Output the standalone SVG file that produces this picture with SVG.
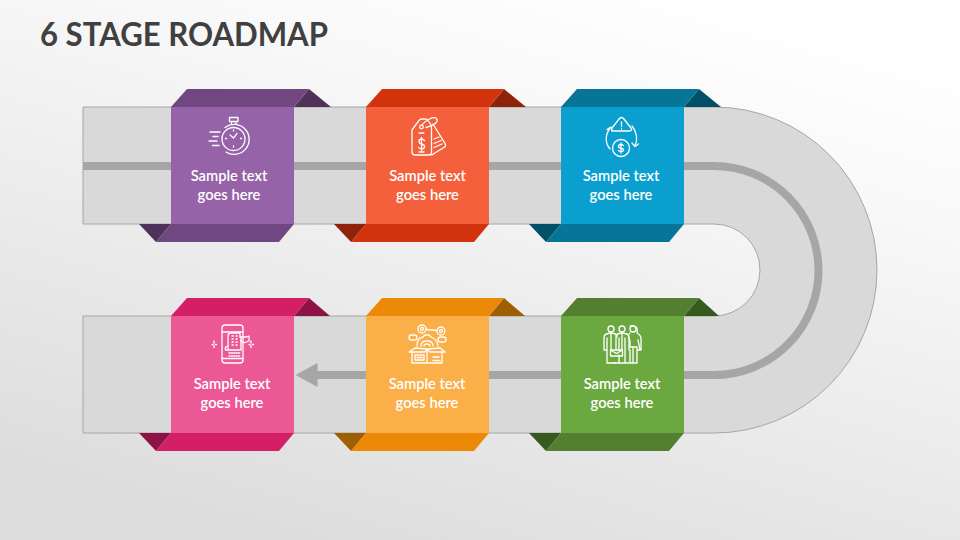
<svg xmlns="http://www.w3.org/2000/svg" width="960" height="540" viewBox="0 0 960 540">
<style>
.title{font:700 33px "Lato","Liberation Sans",sans-serif;fill:#404040}
.lbl{font:600 14.7px "Lato","Liberation Sans",sans-serif;fill:#fff;text-anchor:middle}
.ic{fill:none;stroke:#fff;stroke-width:1.3;stroke-linecap:round;stroke-linejoin:round}
.road{fill:#d9d9d9;stroke:#a6a6a6;stroke-width:1}
.line{fill:none;stroke:#a6a6a6;stroke-width:8}
</style>
<defs>
<linearGradient id="bg" x1="0.75" y1="0" x2="0.25" y2="1"><stop offset="0" stop-color="#ffffff"/><stop offset="0.25" stop-color="#f8f8f8"/><stop offset="1" stop-color="#dcdcdc"/></linearGradient>
<marker id="ah" markerUnits="userSpaceOnUse" markerWidth="22" markerHeight="24" viewBox="0 0 22 24" refX="0.5" refY="12" orient="auto"><polygon points="0,0 22,12 0,24" fill="#a6a6a6"/></marker>
</defs>
<rect width="960" height="540" fill="url(#bg)"/>
<text class="title" x="40" y="45.500" textLength="288" lengthAdjust="spacingAndGlyphs">6 STAGE ROADMAP</text>
<g id="connectors">
<path class="road" d="M83 107H714A163 163 0 0 1 714 433H83V316H714A46 46 0 0 0 714 224H83Z"/>
<path class="line" d="M83 166H714A104.5 104.5 0 0 1 714 375H317" marker-end="url(#ah)"/>
</g>
<g id="node1" transform="translate(171,107)">
<polygon fill="#4f3159" points="123,0 138,-18 160,0"/><polygon fill="#4f3159" points="0,117 -15,135 -32,117"/>
<polygon fill="#704780" points="0,0 16,-18 138,-18 123,0"/><polygon fill="#704780" points="0,117 123,117 108,135 -15,135"/>
<rect width="123" height="117" fill="#9662a8"/>
<g class="ic" transform="translate(-171,-107)">
<circle cx="233.500" cy="139" r="11.500"/><path d="M225 127.500A15 15 0 1 1 226 152"/><path d="M229.500 117.500H238V121.500H229.500ZM231.500 121.500V124M236 121.500V124"/>
<path d="M233.500 138L237 133.500M233.500 138L230 135M233.500 130V131M233.500 146V147M225.500 138.500H226.500M240.500 138.500H241.500"/>
<path d="M210 132H220M213 136.500H218M209 141H217M212.500 145.500H219"/>
</g>
<text class="lbl" x="58" y="74">Sample text</text><text class="lbl" x="58" y="93">goes here</text>
</g>
<g id="node2" transform="translate(366,107)">
<polygon fill="#8e230a" points="123,0 138,-18 160,0"/><polygon fill="#8e230a" points="0,117 -15,135 -32,117"/>
<polygon fill="#d1330d" points="0,0 16,-18 138,-18 123,0"/><polygon fill="#d1330d" points="0,117 123,117 108,135 -15,135"/>
<rect width="123" height="117" fill="#f4603c"/>
<g class="ic" transform="translate(-366,-107)">
<path d="M412 130L419 120.500Q420 119 422 119H425Q427 119 428 120.500L431 125Q431.500 127 431.500 129V152Q431.500 155 429 155H415Q412 155 412 152Z"/>
<circle cx="421.500" cy="127" r="1.800"/><path d="M421.500 125.500C425 120 434 116 436.500 118.500C439 121.500 434 126 426 127.500"/>
<path d="M433 124L445 143.500Q446.500 146 444 147.500L434 153.500Q433 154.500 431.500 155"/>
<path d="M419 133H424M419 152H424M424.500 140.500Q423 139 421.500 139Q419 139 419 141.500Q419 143.500 421.500 144Q424.500 144.500 424.500 146.500Q424.500 149 421.500 149Q419.500 149 418.500 147.500M421.500 137.500V150.500"/>
<path d="M434 139L439 137M434 143.500L441 140.500M434 147.500L442 144"/>
</g>
<text class="lbl" x="61.500" y="74">Sample text</text><text class="lbl" x="61.500" y="93">goes here</text>
</g>
<g id="node3" transform="translate(561,107)">
<polygon fill="#024f68" points="123,0 138,-18 160,0"/><polygon fill="#024f68" points="0,117 -15,135 -32,117"/>
<polygon fill="#077598" points="0,0 16,-18 138,-18 123,0"/><polygon fill="#077598" points="0,117 123,117 108,135 -15,135"/>
<rect width="123" height="117" fill="#0a9fcf"/>
<g class="ic" transform="translate(-561,-107)">
<path d="M619.500 118.500Q621.500 116.500 623.500 118.500L631 128Q632.500 131 629.500 131H614Q610.500 131 612 128Z"/>
<path d="M621.500 122V126.500M621.500 128.500V129"/>
<circle cx="621" cy="148" r="8.500"/>
<path d="M623.500 145.500Q622.500 144.500 621 144.500Q618.500 144.500 618.500 146.500Q618.500 148 621 148.200Q623.500 148.500 623.500 150Q623.500 151.500 621 151.500Q619 151.500 618.300 150.500M621 143V153"/>
<path d="M610 128C605 135 605 143 610 149M607 129.500L611 127L612 131"/>
<path d="M632 126C637 132 638 140 635 146M632 143L635 146.500L638.500 144"/>
</g>
<text class="lbl" x="60" y="74">Sample text</text><text class="lbl" x="60" y="93">goes here</text>
</g>
<g id="node4" transform="translate(561,316)">
<polygon fill="#375a1e" points="123,0 138,-18 158,0"/><polygon fill="#375a1e" points="0,117 -15,135 -32,117"/>
<polygon fill="#547f31" points="0,0 16,-18 138,-18 123,0"/><polygon fill="#547f31" points="0,117 123,117 108,135 -15,135"/>
<rect width="123" height="117" fill="#6ba840"/>
<g class="ic" transform="translate(-561,-316)">
<circle cx="611" cy="329" r="3"/><circle cx="622" cy="329" r="3"/><circle cx="633" cy="329" r="3"/>
<path d="M604 350V338Q604 334 608 333.500L611 333L614 333.500Q617 334 617 337M604 350H607V338M607 350V363H615M611 333V350"/>
<path d="M614 363H629M616 350V338Q616 334 619 333.500L622 333L625 333.500Q629 334 629 338V350M619 338V350M625 338V363M622 333V350M619 355V363"/>
<path d="M630 326Q632 325 636 327Q638 329 637 333Q641 335 641 339V350H637M630 333Q627 335 630 341V347H637V363M633 347V363M630 363H637M638 340L640 350M630 350V363"/>
<rect x="610.500" y="350" width="12" height="6"/><path d="M610.500 350L616.500 353.500L622.500 350"/>
</g>
<text class="lbl" x="61" y="73">Sample text</text><text class="lbl" x="61" y="92">goes here</text>
</g>
<g id="node5" transform="translate(366,316)">
<polygon fill="#9e5f03" points="123,0 138,-18 159,0"/><polygon fill="#9e5f03" points="0,117 -15,135 -32,117"/>
<polygon fill="#ec8a07" points="0,0 16,-18 138,-18 123,0"/><polygon fill="#ec8a07" points="0,117 123,117 108,135 -15,135"/>
<rect width="123" height="117" fill="#fbaf49"/>
<g class="ic" transform="translate(-366,-316)">
<circle cx="422" cy="329" r="4"/><circle cx="422" cy="329" r="1.500"/><circle cx="441" cy="331" r="4"/><circle cx="441" cy="331" r="1.500"/><path d="M426 329.500L437 330.500"/>
<rect x="409" y="335" width="8" height="5" rx="2.500"/><rect x="438" y="337" width="8" height="5" rx="2.500"/>
<path d="M417 346Q417 338 423 337L425 335H429L431 337Q437 339 438 346M421 346Q421 341 427 341Q433 341 433 346M424 346Q424 344 427 344Q430 344 430 346"/>
<path d="M412 352V363H442V352M427 349V363M412 352H425L427 349L415 348L409 352H412ZM427 349L440 348L445 352H430L427 349"/>
<rect x="415" y="355" width="9" height="5"/><path d="M417 357.500H422M433 357H439M433 360.500H440"/>
</g>
<text class="lbl" x="61" y="73">Sample text</text><text class="lbl" x="61" y="92">goes here</text>
</g>
<g id="node6" transform="translate(171,316)">
<polygon fill="#8d1347" points="123,0 138,-18 159,0"/><polygon fill="#8d1347" points="0,117 -15,135 -32,117"/>
<polygon fill="#d41f66" points="0,0 16,-18 138,-18 123,0"/><polygon fill="#d41f66" points="0,117 123,117 108,135 -15,135"/>
<rect width="123" height="117" fill="#ec5896"/>
<g class="ic" transform="translate(-171,-316)">
<rect x="222" y="325" width="21" height="38" rx="3"/><path d="M222 332H243M222 358.500H243"/>
<path d="M228 350V336Q228 333 231 333H240V337M228 350H225.500Q224.500 347 227 346.500M228 350H241V338"/>
<path d="M240 337H247L249 336V341L245 342.500Q241 343 241 340"/>
<path d="M232 336H234M236 336H238M232 339H234M236 339H238M232 342H234M236 342H238M232 345H234M236 345H238M229 353H240M229 356H240" stroke-dasharray="1.200 1.200"/>
<path d="M214 341V343M214 345.500V347.500M212 344.500H213M215.500 344.500H216.500M251 341V343M251 345.500V347.500M249 344.500H250M252.500 344.500H253.500"/>
</g>
<text class="lbl" x="61" y="73">Sample text</text><text class="lbl" x="61" y="92">goes here</text>
</g>
</svg>
